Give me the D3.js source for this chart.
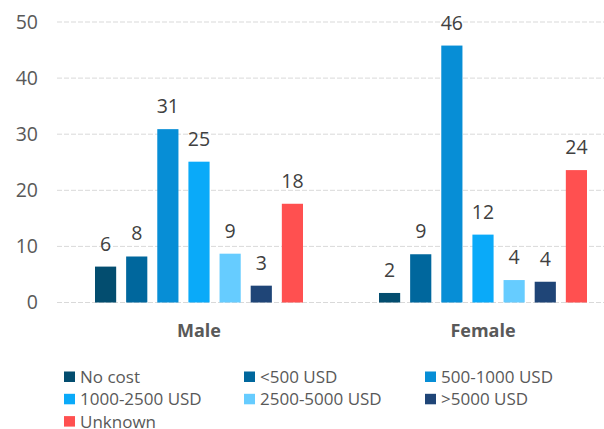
<!DOCTYPE html>
<html>
<head>
<meta charset="utf-8">
<script src="https://cdn.jsdelivr.net/npm/d3@7"></script>
<style>
  body { margin: 0; background: #fff; }
  svg { display: block; font-family: "Open Sans", sans-serif; }
</style>
</head>
<body>
<svg id="chart" width="604" height="429"></svg>
<script>
"use strict";

// data (percent), labels are the rounded values
const genders = ["Male", "Female"]
const costs = ["No cost", "<500 USD", "500-1000 USD", "1000-2500 USD", "2500-5000 USD", ">5000 USD", "Unknown"]
const maleValues = [6.4, 8.2, 30.9, 25.1, 8.7, 3.0, 17.6]
const femaleValues = [1.7, 8.6, 45.8, 12.1, 4.0, 3.7, 23.6]
const yTicks = [0, 10, 20, 30, 40, 50]

const cost_colors = new Map()
    .set("No cost", "#034d6f")
    .set("<500 USD", "#00679d")
    .set("500-1000 USD", "#078ed6")
    .set("1000-2500 USD", "#0aaaf9")
    .set("2500-5000 USD", "#66ccff")
    .set(">5000 USD", "#1f4577")
    .set("Unknown", "#ff5050")

const width = 604
const height = 429
const plot = { left: 57, right: 625, top: 22, bottom: 302.5 }

const rows = genders.map((g, i) => ({
    gender: g,
    values: costs.map((c, j) => ({ cost: c, value: (i == 0 ? maleValues : femaleValues)[j] }))
}))

const svg = d3.select("#chart")

const x = d3.scaleBand()
    .domain(genders)
    .range([plot.left, plot.right])

const x1 = d3.scaleBand()
    .domain(costs)
    .range([38, x.bandwidth() - 38])
    .paddingInner(0.32)

const y = d3.scaleLinear()
    .domain([0, 50])
    .range([plot.bottom, plot.top])

// gridlines
svg.append("g")
    .selectAll("line")
    .data(yTicks)
    .join("line")
    .attr("x1", plot.left)
    .attr("x2", width)
    .attr("y1", d => y(d))
    .attr("y2", d => y(d))
    .attr("stroke", "#d9d9d9")
    .attr("stroke-width", 1)
    .attr("stroke-dasharray", "5,2")

// y axis labels
const yAxis = svg.append("g")
    .attr("transform", `translate(${plot.left - 19},0)`)
    .call(d3.axisLeft(y).tickValues(yTicks).tickSize(0).tickPadding(0))
yAxis.select(".domain").remove()
yAxis.selectAll("text")
    .attr("fill", "#595959")
    .style("font-size", "19.5px")
    .style("font-family", "'Open Sans', sans-serif")

// bars
const groups = svg.append("g")
    .selectAll("g")
    .data(rows)
    .join("g")
    .attr("transform", d => `translate(${x(d.gender)},0)`)

groups.selectAll("rect")
    .data(d => d.values)
    .join("rect")
    .attr("x", d => x1(d.cost))
    .attr("y", d => y(d.value))
    .attr("width", x1.bandwidth())
    .attr("height", d => y(0) - y(d.value))
    .attr("fill", d => cost_colors.get(d.cost))

groups.selectAll("text")
    .data(d => d.values)
    .join("text")
    .attr("x", d => x1(d.cost) + x1.bandwidth() / 2)
    .attr("y", d => y(d.value) - 16)
    .attr("text-anchor", "middle")
    .attr("fill", "#404040")
    .style("font-size", "19.5px")
    .text(d => Math.round(d.value))

// category labels
const xAxis = svg.append("g")
    .attr("transform", `translate(0,${plot.bottom + 15})`)
    .call(d3.axisBottom(x).tickSize(0).tickPadding(0))
xAxis.select(".domain").remove()
xAxis.selectAll("text")
    .attr("dy", "1.1em")
    .attr("fill", "#595959")
    .style("font-size", "18px")
    .style("font-weight", "bold")
    .style("font-family", "'Open Sans', sans-serif")

// legend, three columns
const legendCols = [64, 244, 425]
const legend = svg.append("g")
    .selectAll("g")
    .data(costs)
    .join("g")
    .attr("transform", (d, i) => `translate(${legendCols[i % 3]},${371.5 + Math.floor(i / 3) * 22.3})`)

legend.append("rect")
    .attr("width", 11)
    .attr("height", 10.5)
    .attr("fill", d => cost_colors.get(d))

legend.append("text")
    .attr("x", 16)
    .attr("y", 5.5)
    .attr("dy", "0.35em")
    .attr("fill", "#595959")
    .style("font-size", "17px")
    .text(d => d)
</script>
</body>
</html>
